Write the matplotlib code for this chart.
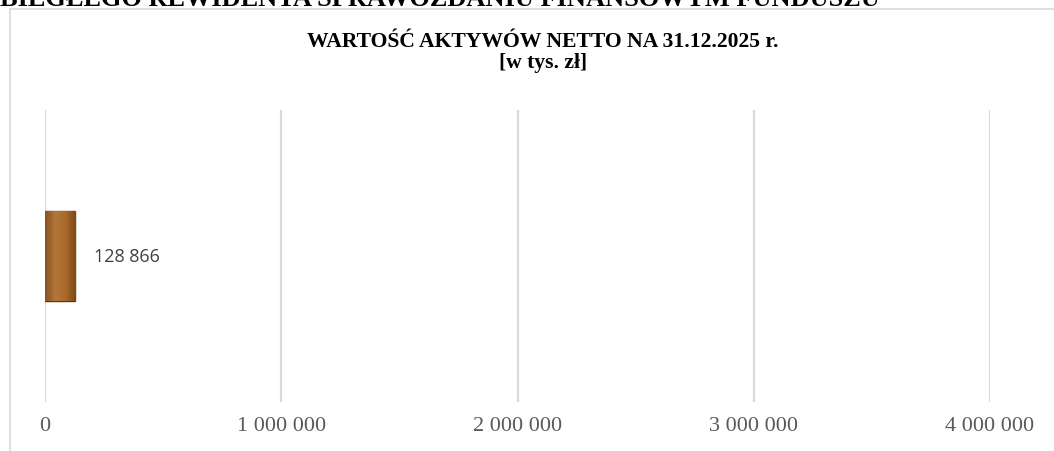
import matplotlib
matplotlib.use("Agg")
import matplotlib.pyplot as plt
import matplotlib.ticker as ticker
import numpy as np
from matplotlib.patches import Rectangle
from matplotlib.colors import LinearSegmentedColormap

# Data
categories = [""]
values = [128866]
x_ticks = [0, 1000000, 2000000, 3000000, 4000000]

title = "WARTOŚĆ AKTYWÓW NETTO NA 31.12.2025 r.\n[w tys. zł]"
page_text = "BIEGŁEGO REWIDENTA SPRAWOZDANIU FINANSOWYM FUNDUSZU"

W, H = 1054, 452
fig = plt.figure(figsize=(W / 100, H / 100), dpi=100)

# Cut-off heading of the page above the chart
fig.text(0.0, 1 - 6 / H, page_text, fontsize=19, fontweight="bold",
         family="Liberation Serif", va="baseline", ha="left", color="black")

# Chart frame
fig.patches.append(Rectangle((10 / W, -0.05), 1.2, 1 - 10 / H + 0.05,
                             transform=fig.transFigure, fill=False,
                             edgecolor="#d9d9d9", linewidth=1.2))

ax = fig.add_axes([45 / W, 1 - 403 / H, (990 - 45) / W, (403 - 111) / H])

bar_h = 0.31
bars = ax.barh(categories, values, height=bar_h, color="#a9692c",
               edgecolor="#5e3510", linewidth=1.0, zorder=3)

# bevel-like shading inside each bar
cmap = LinearSegmentedColormap.from_list("bronze", ["#8a5220", "#b3763a", "#a9692c", "#7d4818"])
grad = np.linspace(0, 1, 64).reshape(1, -1)
for i, v in enumerate(values):
    im = ax.imshow(grad, cmap=cmap, aspect="auto", zorder=3.5,
                   extent=(0, v, i - bar_h / 2, i + bar_h / 2))
    im.set_clip_path(bars[i])

for i, v in enumerate(values):
    ax.text(v + 80000, i, f"{v:,}".replace(",", " "), va="center", ha="left",
            fontsize=13, family="Open Sans", color="#404040")

ax.set_xlim(0, 4000000)
ax.set_ylim(-0.5, 0.5)
ax.set_xticks(x_ticks)
ax.xaxis.set_major_formatter(ticker.FuncFormatter(lambda x, p: f"{int(x):,}".replace(",", " ")))
ax.set_yticks([])
ax.tick_params(axis="x", length=0, pad=10, labelsize=16, labelcolor="#595959")
for lbl in ax.get_xticklabels():
    lbl.set_family("Liberation Serif")

ax.grid(True, axis="x", color="#d9d9d9", linewidth=1.6, zorder=0)
for s in ax.spines.values():
    s.set_visible(False)

fig.text(543 / W, 1 - 32 / H, title, ha="center", va="top",
         fontsize=15.6, fontweight="bold", family="Liberation Serif",
         linespacing=1.05)

fig.savefig("out.png", dpi=100)
